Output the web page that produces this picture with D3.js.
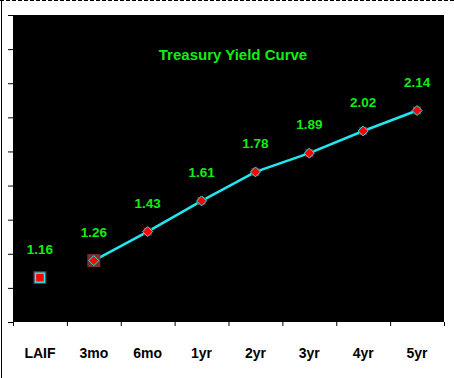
<!DOCTYPE html>
<html lang="en">
<head>
  <meta charset="utf-8">
  <title>Treasury Yield Curve</title>
  <script src="https://d3js.org/d3.v7.min.js"></script>
  <style>
    body { margin: 0; background: #fff; }
    svg text { font-family: "Liberation Sans", Arial, sans-serif; font-weight: bold; }
  </style>
</head>
<body>
<svg id="chart" width="454" height="378"></svg>
<script>
  // chart data
  const categories = ["LAIF", "3mo", "6mo", "1yr", "2yr", "3yr", "4yr", "5yr"];
  const yields = [1.16, 1.26, 1.43, 1.61, 1.78, 1.89, 2.02, 2.14];
  const yTicks = [0.9, 1.1, 1.3, 1.5, 1.7, 1.9, 2.1, 2.3, 2.5, 2.7];

  const svg = d3.select("#chart");
  const plotLeft = 13, plotRight = 444, plotTop = 15, plotBottom = 322;

  // frame around the whole thing
  svg.append("line").attr("x1", 0).attr("y1", 0.5).attr("x2", 454).attr("y2", 0.5)
    .attr("stroke", "#000").attr("stroke-dasharray", "4,2");
  svg.append("line").attr("x1", 1.5).attr("y1", 0).attr("x2", 1.5).attr("y2", 378)
    .attr("stroke", "#000");

  // black plot area
  svg.append("rect").attr("x", plotLeft).attr("y", plotTop)
    .attr("width", plotRight - plotLeft).attr("height", plotBottom - plotTop).attr("fill", "#000");

  const xScale = d3.scaleBand().domain(categories).range([plotLeft, plotRight]);
  const yScale = d3.scaleLinear().domain([0.9, 2.7]).range([plotBottom, plotTop]);
  const cx = d => xScale(d) + xScale.bandwidth() / 2;

  // y axis, ticks only
  const yAxis = svg.append("g").attr("transform", "translate(" + plotLeft + ",0)")
    .call(d3.axisLeft(yScale).tickValues(yTicks).tickSize(5).tickFormat(""));
  yAxis.select(".domain").attr("stroke", "#000");

  // x axis, ticks on the band edges
  const edges = categories.map(c => xScale(c)).concat([plotRight]);
  const xAxis = svg.append("g").attr("transform", "translate(0," + plotBottom + ")");
  xAxis.selectAll("line").data(edges).enter().append("line")
    .attr("x1", d => d + 0.5).attr("x2", d => d + 0.5).attr("y1", 0).attr("y2", 4)
    .attr("stroke", "#000");
  xAxis.selectAll("text").data(categories).enter().append("text")
    .attr("x", d => cx(d)).attr("y", 36)
    .attr("text-anchor", "middle").attr("font-size", "14px").attr("fill", "#000")
    .text(d => d);

  svg.append("text").attr("x", 233).attr("y", 60)
    .attr("text-anchor", "middle").attr("font-size", "15px").attr("fill", "#11ee11")
    .text("Treasury Yield Curve");

  const pts = categories.map((c, i) => ({ cat: c, v: yields[i] }));

  // curve starts at 3mo
  const line = d3.line().x(d => cx(d.cat)).y(d => yScale(d.v));
  svg.append("path").datum(pts.slice(1))
    .attr("d", line).attr("fill", "none")
    .attr("stroke", "#22e6f0").attr("stroke-width", 2.5);

  // markers
  pts.forEach((d, i) => {
    const x = cx(d.cat), y = yScale(d.v);
    const big = i < 2 ? 13 : 8;
    svg.append("rect").attr("x", x - big / 2).attr("y", y - big / 2)
      .attr("width", big).attr("height", big).attr("fill", "#7b2f2f");
    if (i === 0) {
      svg.append("rect").attr("x", x - 4.5).attr("y", y - 4.5).attr("width", 9).attr("height", 9)
        .attr("fill", "#ff0000").attr("stroke", "#22e6f0").attr("stroke-width", 1.5);
    } else {
      svg.append("path")
        .attr("d", "M" + x + "," + (y - 5) + "L" + (x + 5) + "," + y + "L" + x + "," + (y + 5) + "L" + (x - 5) + "," + y + "Z")
        .attr("fill", "#ff0000").attr("stroke", "#22e6f0").attr("stroke-width", 1);
    }
  });

  // value labels
  svg.selectAll(".val").data(pts).enter().append("text")
    .attr("class", "val")
    .attr("x", d => cx(d.cat)).attr("y", d => yScale(d.v) - 24)
    .attr("text-anchor", "middle").attr("font-size", "13.5px").attr("fill", "#11ee11")
    .text(d => d.v.toFixed(2));
</script>
</body>
</html>
